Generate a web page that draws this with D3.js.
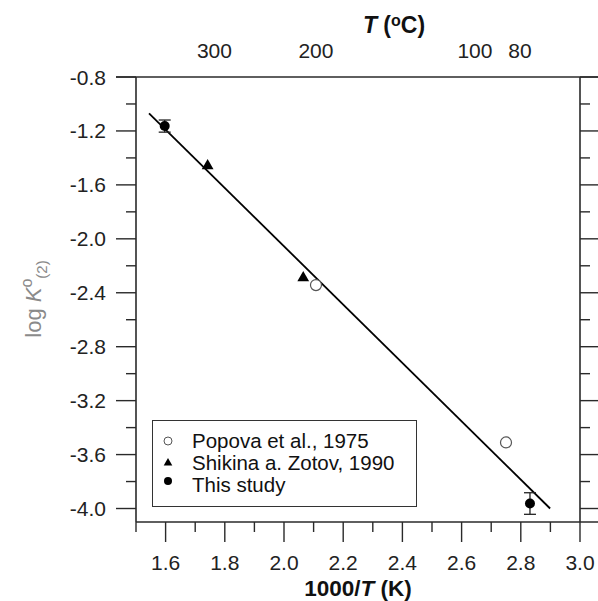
<!DOCTYPE html>
<html>
<head>
<meta charset="utf-8">
<script src="https://cdn.jsdelivr.net/npm/d3@7"></script>
<style>
  body { margin: 0; background: #fff; }
  svg text { font-family: Arial, "Liberation Sans", sans-serif; }
</style>
</head>
<body>
<div id="chart"></div>
<script>
// data
var popovaX = [2.108, 2.75],
    popovaY = [-2.343, -3.51];
var shikinaX = [1.742, 2.065],
    shikinaY = [-1.458, -2.289];
var studyX = [1.597, 2.831],
    studyY = [-1.164, -3.963],
    studyErr = [0.045, 0.08];
// fitted line end points
var fitX = [1.544, 2.899],
    fitY = [-1.069, -4.0];

var xMajor = [1.6, 1.8, 2.0, 2.2, 2.4, 2.6, 2.8, 3.0],
    xMinor = [1.5, 1.7, 1.9, 2.1, 2.3, 2.5, 2.7, 2.9];
var yMajor = [-0.8, -1.2, -1.6, -2.0, -2.4, -2.8, -3.2, -3.6, -4.0],
    yMinor = [-1.0, -1.4, -1.8, -2.2, -2.6, -3.0, -3.4, -3.8];
// top axis: temperature labels (deg C) and where they sit in 1000/T
var topLabels = ["300", "200", "100", "80"],
    topPos = [1.765, 2.108, 2.645, 2.797];
var legendLabels = ["Popova et al., 1975", "Shikina a. Zotov, 1990", "This study"];

var W = 598, H = 601;
var x = d3.scaleLinear().domain([1.5, 3.0]).range([136, 580]);
var y = d3.scaleLinear().domain([-4.1, -0.8]).range([522, 77]);

var svg = d3.select("#chart").append("svg")
  .attr("width", W)
  .attr("height", H);

svg.append("rect").attr("width", W).attr("height", H).attr("fill", "#fff");

var axisColor = "#2a2a2a";
var x0 = x(1.5), x1 = x(3.0), yT = y(-0.8), yB = y(-4.1);

// frame: top & bottom lines run out to the right edge
svg.append("line").attr("x1", x0 - 20).attr("x2", W).attr("y1", yT).attr("y2", yT)
  .attr("stroke", axisColor).attr("stroke-width", 1.6);
svg.append("line").attr("x1", x0).attr("x2", W).attr("y1", yB).attr("y2", yB)
  .attr("stroke", axisColor).attr("stroke-width", 1.6);
svg.append("line").attr("x1", x0).attr("x2", x0).attr("y1", yT).attr("y2", yB)
  .attr("stroke", axisColor).attr("stroke-width", 1.6);
svg.append("line").attr("x1", x1).attr("x2", x1).attr("y1", yT).attr("y2", yB)
  .attr("stroke", axisColor).attr("stroke-width", 1.6);

// y ticks, left (outward) and right (outward)
function yTicks(vals, len) {
  svg.append("g").selectAll("line").data(vals).enter().append("line")
    .attr("x1", x0 - len).attr("x2", x0)
    .attr("y1", function(d) { return y(d); }).attr("y2", function(d) { return y(d); })
    .attr("stroke", axisColor).attr("stroke-width", 1.4);
  svg.append("g").selectAll("line").data(vals).enter().append("line")
    .attr("x1", x1).attr("x2", x1 + len)
    .attr("y1", function(d) { return y(d); }).attr("y2", function(d) { return y(d); })
    .attr("stroke", axisColor).attr("stroke-width", 1.4);
}
yTicks(yMajor, 20);
yTicks(yMinor, 10);

// x ticks, downward
function xTicks(vals, len) {
  svg.append("g").selectAll("line").data(vals).enter().append("line")
    .attr("x1", function(d) { return x(d); }).attr("x2", function(d) { return x(d); })
    .attr("y1", yB).attr("y2", yB + len)
    .attr("stroke", axisColor).attr("stroke-width", 1.4);
}
xTicks(xMajor, 20);
xTicks(xMinor, 10);

// tick labels
svg.append("g").selectAll("text").data(yMajor).enter().append("text")
  .attr("x", 106).attr("y", function(d) { return y(d); })
  .attr("dy", "0.36em").attr("text-anchor", "end")
  .attr("font-size", 21).attr("fill", "#222")
  .text(function(d) { return d.toFixed(1); });

svg.append("g").selectAll("text").data(xMajor).enter().append("text")
  .attr("x", function(d) { return x(d); }).attr("y", 570)
  .attr("text-anchor", "middle")
  .attr("font-size", 21).attr("fill", "#222")
  .text(function(d) { return d.toFixed(1); });

svg.append("g").selectAll("text").data(topLabels).enter().append("text")
  .attr("x", function(d, i) { return x(topPos[i]); }).attr("y", 58)
  .attr("text-anchor", "middle")
  .attr("font-size", 21).attr("fill", "#222")
  .text(function(d) { return d; });

// axis titles
var xt = svg.append("text").attr("x", x(2.25)).attr("y", 596)
  .attr("text-anchor", "middle").attr("font-size", 22.5).attr("font-weight", "bold").attr("fill", "#111");
xt.append("tspan").text("1000/");
xt.append("tspan").attr("font-style", "italic").text("T");
xt.append("tspan").text(" (K)");

var tt = svg.append("text").attr("x", 394).attr("y", 33)
  .attr("text-anchor", "middle").attr("font-size", 23).attr("font-weight", "bold").attr("fill", "#111");
tt.append("tspan").attr("font-style", "italic").text("T");
tt.append("tspan").text("  (");
tt.append("tspan").attr("font-size", 16).attr("dy", -7).text("o");
tt.append("tspan").attr("dy", 7).text("C)");

var yl = svg.append("text")
  .attr("transform", "translate(41,299) rotate(-90)")
  .attr("text-anchor", "middle").attr("font-size", 22).attr("fill", "#8a8a8a");
yl.append("tspan").text("log ");
yl.append("tspan").attr("font-style", "italic").text("K");
yl.append("tspan").attr("font-size", 16).attr("dy", -9).text("o");
yl.append("tspan").attr("font-size", 15).attr("dy", 15).text("(2)");

// fitted line
var fit = fitX.map(function(d, i) { return [d, fitY[i]]; });
svg.append("path")
  .datum(fit)
  .attr("d", d3.line().x(function(d) { return x(d[0]); }).y(function(d) { return y(d[1]); }))
  .attr("fill", "none").attr("stroke", "#000").attr("stroke-width", 1.8);

// Popova: open circles
svg.append("g").selectAll("circle").data(popovaX).enter().append("circle")
  .attr("cx", function(d) { return x(d); })
  .attr("cy", function(d, i) { return y(popovaY[i]); })
  .attr("r", 5.5).attr("fill", "#fff").attr("stroke", "#555").attr("stroke-width", 1.2);

// Shikina: triangles
var tri = d3.symbol().type(d3.symbolTriangle).size(60);
svg.append("g").selectAll("path").data(shikinaX).enter().append("path")
  .attr("d", tri)
  .attr("transform", function(d, i) { return "translate(" + x(d) + "," + y(shikinaY[i]) + ")"; })
  .attr("fill", "#000");

// this study: filled circles with error bars
var eb = svg.append("g").attr("stroke", "#222").attr("stroke-width", 1.3);
studyX.forEach(function(d, i) {
  var cx = x(d), lo = y(studyY[i] - studyErr[i]), hi = y(studyY[i] + studyErr[i]);
  eb.append("line").attr("x1", cx).attr("x2", cx).attr("y1", lo).attr("y2", hi);
  eb.append("line").attr("x1", cx - 6).attr("x2", cx + 6).attr("y1", lo).attr("y2", lo);
  eb.append("line").attr("x1", cx - 6).attr("x2", cx + 6).attr("y1", hi).attr("y2", hi);
});
svg.append("g").selectAll("circle").data(studyX).enter().append("circle")
  .attr("cx", function(d) { return x(d); })
  .attr("cy", function(d, i) { return y(studyY[i]); })
  .attr("r", 5).attr("fill", "#000");

// legend
var lg = svg.append("g");
lg.append("rect").attr("x", 152.5).attr("y", 420.5).attr("width", 264).attr("height", 86)
  .attr("fill", "#fff").attr("stroke", "#333").attr("stroke-width", 1);
var rowY = [441, 463, 485];
lg.append("circle").attr("cx", 168).attr("cy", rowY[0]).attr("r", 4)
  .attr("fill", "#fff").attr("stroke", "#555").attr("stroke-width", 1);
lg.append("path").attr("d", d3.symbol().type(d3.symbolTriangle).size(32))
  .attr("transform", "translate(168," + rowY[1] + ")").attr("fill", "#000");
lg.append("circle").attr("cx", 168).attr("cy", rowY[2] - 4).attr("r", 4).attr("fill", "#000");
lg.selectAll("text.leg").data(legendLabels).enter().append("text")
  .attr("class", "leg")
  .attr("x", 192).attr("y", function(d, i) { return rowY[i]; })
  .attr("dy", "0.36em").attr("font-size", 20.5).attr("fill", "#111")
  .text(function(d) { return d; });
</script>
</body>
</html>
